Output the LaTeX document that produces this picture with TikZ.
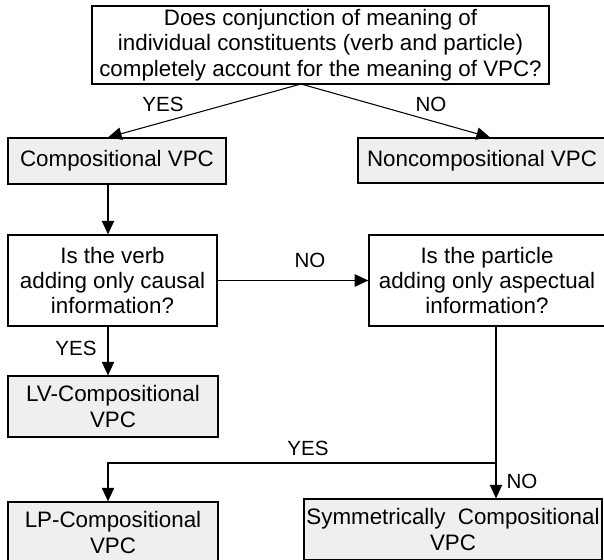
\documentclass[tikz,border=0pt]{standalone}
\usepackage{fontspec}
\setmainfont{Liberation Sans}
\usetikzlibrary{arrows.meta}
\definecolor{boxgray}{RGB}{239,239,239}

\begin{document}
\begin{tikzpicture}[x=0.025cm,y=-0.025cm]
	\tikzstyle{every node}=[font=\fontsize{15.9}{18.1}\selectfont]
	\tikzstyle{question}=[draw, line width=.9pt, align=center, inner sep=0pt]
	\tikzstyle{answer}=[question, fill=boxgray]
	\tikzstyle{lab}=[font=\fontsize{14.6}{16}\selectfont]
	\tikzstyle{arr}=[line width=.75pt, -{Triangle[length=3.4mm,width=3.1mm]}]
	\useasboundingbox (0,0) rectangle (604,559);
	% boxes
	\draw (320.5,45) node (q1) [question, minimum width=11.425cm, minimum height=1.95cm] {Does conjunction of meaning of\\individual constituents (verb and particle)\\completely account for the meaning of VPC?};
	\draw (117,161) node (comp) [answer, minimum width=5.45cm, minimum height=1.15cm] {Compositional VPC};
	\draw (482,160.5) node (noncomp) [answer, minimum width=6.2cm, minimum height=1.125cm] {Noncompositional VPC};
	\draw (112.5,280.5) node (verb) [question, minimum width=5.225cm, minimum height=2.275cm] {Is the verb\\adding only causal\\information?};
	\draw (487,280.5) node (particle) [question, minimum width=5.9cm, minimum height=2.275cm] {Is the particle\\adding only aspectual\\information?};
	\draw (113,406.5) node (lv) [answer, minimum width=5.25cm, minimum height=1.525cm] {LV-Compositional\\VPC};
	\draw (113,532.5) node (lp) [answer, minimum width=5.25cm, minimum height=1.525cm] {LP-Compositional\\VPC};
	\draw (453,529.5) node (symm) [answer, minimum width=7.45cm, minimum height=1.525cm] {Symmetrically\hspace{.55em}Compositional\\VPC};
	% helper points
	\coordinate (split) at (301,84);
	\coordinate (colL) at (108,0);
	\coordinate (colN) at (490,0);
	\coordinate (colR) at (496,0);
	\coordinate (bend) at (496,463);
	% connectors
	\draw[arr] (split) -- (comp.north -| colL);
	\draw[arr] (split) -- (noncomp.north -| colN);
	\draw[arr] (comp.south -| colL) -- (verb.north -| colL);
	\draw[arr] (verb.east) -- (particle.west);
	\draw[arr] (verb.south -| colL) -- (lv.north -| colL);
	\draw[line width=.75pt] (particle.south -| colR) -- (bend);
	\draw[arr] (bend) -| (lp.north -| colL);
	\draw[arr] (bend) -- (symm.north -| colR);
	% labels
	\draw (163,104) node (yes1) [lab] {YES};
	\draw (431,104) node (no1) [lab] {NO};
	\draw (310,260) node (no2) [lab] {NO};
	\draw (76,348) node (yes2) [lab] {YES};
	\draw (308,448) node (yes3) [lab] {YES};
	\draw (522,481) node (no3) [lab] {NO};
\end{tikzpicture}
\end{document}
